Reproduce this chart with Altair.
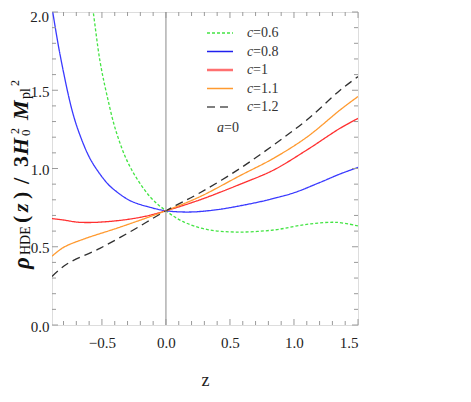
import altair as alt
import pandas as pd

# ---- data ----
x_c06 = [-0.6, -0.568, -0.516, -0.464, -0.385, -0.28, -0.125, 0.0, 0.135, 0.318, 0.55, 0.84, 1.1, 1.33, 1.5]
y_c06 = [2.18, 2.0, 1.69, 1.48, 1.225, 1.01, 0.82, 0.73, 0.66, 0.611, 0.594, 0.607, 0.643, 0.656, 0.633]

x_c08 = [-0.89, -0.83, -0.734, -0.672, -0.594, -0.516, -0.45, -0.398, -0.281, -0.125, 0.0, 0.19, 0.4, 0.6, 0.8, 1.0, 1.2, 1.36, 1.5]
y_c08 = [2.03, 1.74, 1.374, 1.214, 1.065, 0.965, 0.898, 0.86, 0.795, 0.752, 0.73, 0.722, 0.737, 0.765, 0.80, 0.845, 0.91, 0.965, 1.007]

x_c10 = [-0.89, -0.8, -0.70, -0.594, -0.385, -0.177, 0.0, 0.266, 0.578, 0.84, 1.10, 1.36, 1.5]
y_c10 = [0.68, 0.671, 0.658, 0.655, 0.666, 0.692, 0.73, 0.80, 0.899, 0.99, 1.118, 1.257, 1.32]

x_c11 = [-0.89, -0.8, -0.646, -0.385, -0.177, 0.0, 0.266, 0.578, 0.84, 1.1, 1.36, 1.5]
y_c11 = [0.44, 0.496, 0.548, 0.618, 0.677, 0.73, 0.82, 0.954, 1.065, 1.20, 1.374, 1.46]

x_c12 = [-0.89, -0.776, -0.516, -0.255, 0.0, 0.266, 0.578, 0.84, 1.1, 1.36, 1.5]
y_c12 = [0.31, 0.388, 0.49, 0.607, 0.73, 0.845, 1.0, 1.15, 1.31, 1.50, 1.587]

series_names = ["c=0.6", "c=0.8", "c=1", "c=1.1", "c=1.2"]
legend_values = ["=0.6", "=0.8", "=1", "=1.1", "=1.2"]
series_colors = ["#44e444", "#3a3aff", "#ff3030", "#ff9a30", "#303030"]
legend_colors = ["#44e444", "#2020ee", "#ff7070", "#ff9a30", "#555555"]
series_dash = [[3, 2], [1, 0], [1, 0], [1, 0], [8, 5]]

x_major = [-0.5, 0.0, 0.5, 1.0, 1.5]
x_minor = [-0.8, -0.7, -0.6, -0.4, -0.3, -0.2, -0.1, 0.1, 0.2, 0.3, 0.4, 0.6, 0.7, 0.8, 0.9, 1.1, 1.2, 1.3, 1.4]
y_major = [0.0, 0.5, 1.0, 1.5, 2.0]
y_label_axis = [0.0, 0.5, 1.0, 1.5]
y_label_top = [2.0]
y_minor = [0.1, 0.2, 0.3, 0.4, 0.6, 0.7, 0.8, 0.9, 1.1, 1.2, 1.3, 1.4, 1.6, 1.7, 1.8, 1.9]

# ---- build tables ----
rows = []
for name, xs, ys in zip(series_names,
                        [x_c06, x_c08, x_c10, x_c11, x_c12],
                        [y_c06, y_c08, y_c10, y_c11, y_c12]):
    for i, (xv, yv) in enumerate(zip(xs, ys)):
        rows.append({"series": name, "x": xv, "y": yv, "order": i})
df = pd.DataFrame(rows)

W, H = 306, 313
FONT = "Liberation Serif"
FRAME = "#9a9a9a"

xscale = alt.Scale(domain=[-0.89, 1.5], nice=False, zero=False)
yscale = alt.Scale(domain=[0, 2], nice=False, zero=False)

xaxis = alt.Axis(values=x_major, format=".1f", ticks=False, domain=False, grid=False,
                 labelFont=FONT, labelFontSize=15, labelColor="#222", labelPadding=10,
                 title="z", titleFont=FONT, titleFontSize=18, titleFontWeight="normal",
                 titleColor="#222", titlePadding=21)
yaxis = alt.Axis(values=y_label_axis, format=".1f", ticks=False, domain=False, grid=False,
                 labelFont=FONT, labelFontSize=15, labelColor="#222", labelPadding=3,
                 labelOffset=1, title=None)

X = lambda f: alt.X(f, scale=xscale, axis=xaxis)
Y = lambda f: alt.Y(f, scale=yscale, axis=yaxis)

lines = alt.Chart(df).mark_line(clip=True, strokeWidth=1.3, interpolate="catmull-rom").encode(
    x=X("x:Q"),
    y=Y("y:Q"),
    color=alt.Color("series:N", scale=alt.Scale(domain=series_names, range=series_colors), legend=None),
    strokeDash=alt.StrokeDash("series:N", scale=alt.Scale(domain=series_names, range=series_dash), legend=None),
    order="order:Q",
)

zero_line = alt.Chart(pd.DataFrame({"x": [0.0]})).mark_rule(color="#8a8a8a", strokeWidth=1).encode(
    x=X("x:Q"))

# top y label drawn as text through the y scale so it stays inside the page
top_label = alt.Chart(pd.DataFrame({"y": y_label_top})).mark_text(
    font=FONT, fontSize=15, color="#222", align="right", baseline="top", dy=-2).encode(
    y=Y("y:Q"), x=alt.value(-3), text=alt.Text("y:Q", format=".1f"))

layers = [lines, zero_line, top_label]

# frame ticks (inward)
def xticks(vals, L):
    d = pd.DataFrame({"x": vals})
    b = alt.Chart(d).mark_rule(color=FRAME, strokeWidth=1).encode(
        x=X("x:Q"), y=alt.value(H), y2=alt.value(H - L))
    t = alt.Chart(d).mark_rule(color=FRAME, strokeWidth=1).encode(
        x=X("x:Q"), y=alt.value(0), y2=alt.value(L))
    return [b, t]

def yticks(vals, L):
    d = pd.DataFrame({"y": vals})
    l = alt.Chart(d).mark_rule(color=FRAME, strokeWidth=1).encode(
        y=Y("y:Q"), x=alt.value(0), x2=alt.value(L))
    r = alt.Chart(d).mark_rule(color=FRAME, strokeWidth=1).encode(
        y=Y("y:Q"), x=alt.value(W), x2=alt.value(W - L))
    return [l, r]

layers += xticks(x_major, 6) + xticks(x_minor, 4) + yticks(y_major, 6) + yticks(y_minor, 4)

# ---- manual legend ----
leg_y = [21, 39.5, 58, 76.5, 95]
one = pd.DataFrame({"k": [0]})
for i in range(5):
    sw = 2.6 if i == 2 else 1.4
    layers.append(alt.Chart(one).mark_rule(
        color=legend_colors[i], strokeWidth=sw, strokeDash=series_dash[i]).encode(
        x=alt.value(155), x2=alt.value(181), y=alt.value(leg_y[i])))
    layers.append(alt.Chart(one).mark_text(
        text="c", font=FONT, fontSize=14, fontStyle="italic", align="left", baseline="middle",
        color="#333").encode(x=alt.value(195), y=alt.value(leg_y[i])))
    layers.append(alt.Chart(one).mark_text(
        text=legend_values[i], font=FONT, fontSize=14, align="left", baseline="middle",
        color="#333").encode(x=alt.value(201), y=alt.value(leg_y[i])))
layers.append(alt.Chart(one).mark_text(
    text="a", font=FONT, fontSize=14, fontStyle="italic", align="left", baseline="middle",
    color="#333").encode(x=alt.value(165), y=alt.value(116)))
layers.append(alt.Chart(one).mark_text(
    text="=0", font=FONT, fontSize=14, align="left", baseline="middle",
    color="#333").encode(x=alt.value(172), y=alt.value(116)))

# ---- y-axis title, composed of rotated pieces
# (text, start y on page, baseline x on page, size, weight, style)
title_pieces = [
    ("ρ", 269, 29, 23, "bold", "italic"),
    ("HDE", 255, 30, 14, "normal", "normal"),
    ("(", 223, 28, 22, "bold", "normal"),
    ("z", 212, 28, 22, "bold", "italic"),
    (")", 199, 28, 22, "bold", "normal"),
    ("/", 184, 29, 23, "bold", "normal"),
    ("3", 167, 28, 22, "bold", "normal"),
    ("H", 155, 28, 22, "bold", "italic"),
    ("0", 136, 30, 13, "normal", "normal"),
    ("2", 134, 19, 12, "normal", "normal"),
    ("M", 120, 28, 22, "bold", "italic"),
    ("pl", 99, 30, 14, "normal", "normal"),
    ("2", 86, 19, 12, "normal", "normal"),
]
for txt, ys, xb, fs, fw, fst in title_pieces:
    layers.append(alt.Chart(one).mark_text(
        text=txt, font=FONT, fontSize=fs, fontWeight=fw, fontStyle=fst, angle=270,
        align="left", baseline="alphabetic", color="#111").encode(
        x=alt.value(xb - 52), y=alt.value(ys - 12)))

chart = alt.layer(*layers).properties(
    width=W, height=H,
    autosize=alt.AutoSizeParams(type="none"),
    padding={"left": 44, "top": 4, "right": 105, "bottom": 69},
).configure_view(stroke=FRAME, strokeWidth=1).configure(background="white")

chart.save("out.html", embed_options={"renderer": "svg", "actions": False})
